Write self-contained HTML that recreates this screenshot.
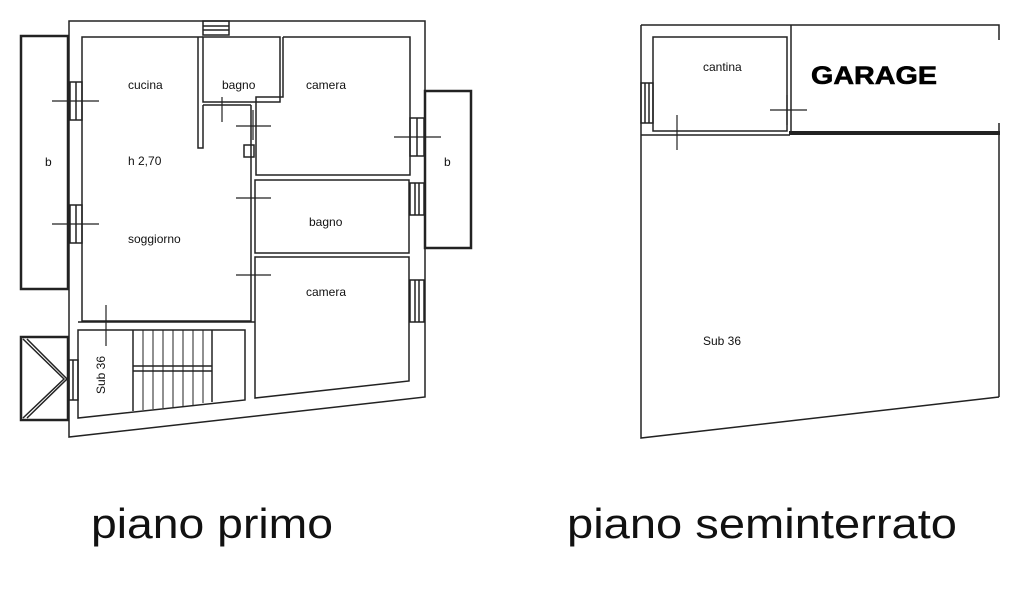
<!DOCTYPE html>
<html><head><meta charset="utf-8"><style>
html,body{margin:0;padding:0;background:#fff;width:1024px;height:590px;overflow:hidden}
svg{display:block}
text{font-family:"Liberation Sans",Arial,sans-serif;fill:#111}
</style></head><body>
<svg width="1024" height="590" viewBox="0 0 1024 590" xmlns="http://www.w3.org/2000/svg">
<g fill="none" stroke="#222" stroke-width="1.5">
<polygon points="69,21 425,21 425,397 69,437"/>
<rect x="21" y="36" width="47" height="253" stroke-width="2.5"/>
<rect x="425" y="91" width="46" height="157" stroke-width="2.5"/>
<rect x="21" y="337" width="47" height="83" stroke-width="2.5"/>
<polyline points="23,339 64,379 23,418" />
<polyline points="27,339 67,379 27,418" />
<rect x="203" y="21" width="26" height="14"/>
<line x1="203" y1="26" x2="229" y2="26"/><line x1="203" y1="30" x2="229" y2="30"/>
<polyline points="203,37 82,37 82,321 251,321 251,105"/>
<polyline points="198,37 198,148 203,148 203,105"/>
<rect x="203" y="37" width="77" height="65"/>
<polyline points="283,37 410,37 410,175 256,175 256,97 283,97 283,37"/>
<line x1="203" y1="105" x2="251" y2="105"/>
<rect x="244" y="145" width="10" height="12"/>
<rect x="255" y="180" width="154" height="73"/>
<polygon points="255,257 409,257 409,381 255,398"/>
<polygon points="78,330 245,330 245,400 78,418"/>
<line x1="78" y1="322" x2="255" y2="322"/>
<line x1="133" y1="330" x2="133" y2="411"/>
<line x1="212" y1="330" x2="212" y2="402"/>
<line x1="133" y1="366" x2="212" y2="366"/><line x1="133" y1="371" x2="212" y2="371"/>
<g stroke-width="1">
<line x1="143" y1="330" x2="143" y2="410"/><line x1="153" y1="330" x2="153" y2="409"/>
<line x1="163" y1="330" x2="163" y2="408"/><line x1="173" y1="330" x2="173" y2="407"/>
<line x1="183" y1="330" x2="183" y2="406"/><line x1="193" y1="330" x2="193" y2="405"/>
<line x1="203" y1="330" x2="203" y2="403"/>
</g>
<rect x="70" y="82" width="12" height="38"/><line x1="76" y1="82" x2="76" y2="120"/>
<rect x="70" y="205" width="12" height="38"/><line x1="76" y1="205" x2="76" y2="243"/>
<rect x="410" y="118" width="14" height="38"/><line x1="417" y1="118" x2="417" y2="156"/>
<rect x="410" y="183" width="14" height="32"/><line x1="415" y1="183" x2="415" y2="215"/><line x1="419" y1="183" x2="419" y2="215"/>
<rect x="410" y="280" width="14" height="42"/><line x1="415" y1="280" x2="415" y2="322"/><line x1="419" y1="280" x2="419" y2="322"/>
<rect x="69" y="360" width="9" height="40"/><line x1="73" y1="360" x2="73" y2="400"/>
<g stroke-width="1.2">
<line x1="52" y1="101" x2="99" y2="101"/><line x1="52" y1="224" x2="99" y2="224"/>
<line x1="394" y1="137" x2="441" y2="137"/>
<line x1="236" y1="126" x2="271" y2="126"/><line x1="253" y1="110" x2="253" y2="140"/>
<line x1="236" y1="198" x2="271" y2="198"/>
<line x1="236" y1="275" x2="271" y2="275"/>
<line x1="222" y1="97" x2="222" y2="122"/>
<line x1="106" y1="305" x2="106" y2="346"/>
</g>
<polyline points="641,25 999,25 999,40"/>
<line x1="999" y1="123" x2="999" y2="397"/>
<polyline points="999,397 641,438 641,25"/>
<rect x="653" y="37" width="134" height="94"/>
<line x1="791" y1="25" x2="791" y2="133"/>
<line x1="641" y1="135" x2="790" y2="135"/>
<rect x="641" y="83" width="12" height="40"/><line x1="645" y1="83" x2="645" y2="123"/><line x1="649" y1="83" x2="649" y2="123"/>
<line x1="789" y1="133" x2="1000" y2="133" stroke-width="4"/>
<g stroke-width="1.2">
<line x1="770" y1="110" x2="807" y2="110"/><line x1="787" y1="95" x2="787" y2="125"/>
<line x1="677" y1="115" x2="677" y2="150"/>
</g>
</g>
<g font-size="12">
<text x="128" y="89">cucina</text>
<text x="222" y="89">bagno</text>
<text x="306" y="89">camera</text>
<text x="128" y="165">h 2,70</text>
<text x="128" y="243">soggiorno</text>
<text x="309" y="226">bagno</text>
<text x="306" y="296">camera</text>
<text x="45" y="166">b</text>
<text x="444" y="166">b</text>
<text transform="translate(105,394) rotate(-90)">Sub 36</text>
<text x="703" y="71">cantina</text>
<text x="703" y="345">Sub 36</text>
</g>
<text x="811" y="84" font-size="25" font-weight="bold" style="fill:#000;stroke:#000;stroke-width:0.6" textLength="126" lengthAdjust="spacingAndGlyphs">GARAGE</text>
<text x="91" y="538" font-size="42" textLength="242" lengthAdjust="spacingAndGlyphs">piano primo</text>
<text x="567" y="538" font-size="42" textLength="390" lengthAdjust="spacingAndGlyphs">piano seminterrato</text>
</svg>
</body></html>
